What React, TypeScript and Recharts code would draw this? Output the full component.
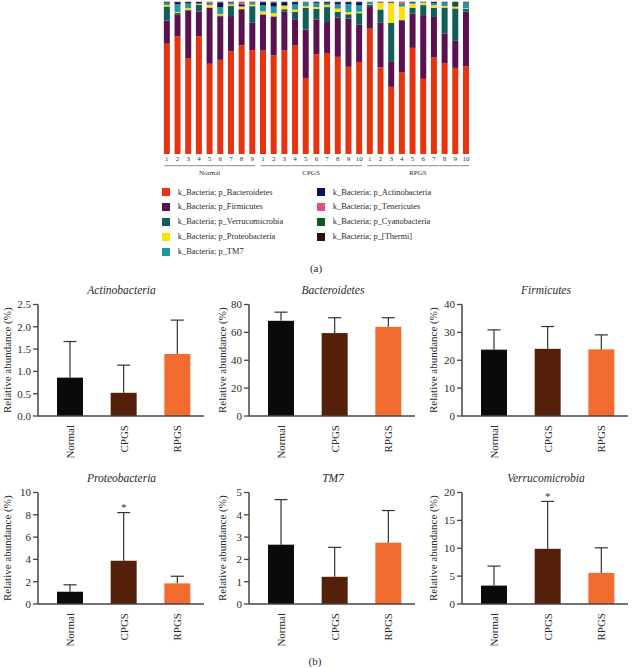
// App.tsx — (a) per-sample phylum composition, (b) group means for six phyla
import { BarChart, Bar, XAxis, YAxis } from "recharts";

const FONT = "'Liberation Serif', 'DejaVu Serif', serif";

// ---------- (a) stacked composition ----------
const sampleLabels = [
  "1", "2", "3", "4", "5", "6", "7", "8", "9",
  "1", "2", "3", "4", "5", "6", "7", "8", "9", "10",
  "1", "2", "3", "4", "5", "6", "7", "8", "9", "10",
];
const sampleGroup = [
  "Normal", "Normal", "Normal", "Normal", "Normal", "Normal", "Normal", "Normal", "Normal",
  "CPGS", "CPGS", "CPGS", "CPGS", "CPGS", "CPGS", "CPGS", "CPGS", "CPGS", "CPGS",
  "RPGS", "RPGS", "RPGS", "RPGS", "RPGS", "RPGS", "RPGS", "RPGS", "RPGS", "RPGS",
];

const bacteroidetes = [72.6, 77.5, 63.2, 77.7, 59.5, 62.4, 67.6, 72.0, 68.3, 68.3, 65.2, 68.3, 71.6, 50.1, 65.6, 66.5, 63.9, 57.3, 60.6, 82.9, 57.3, 44.2, 54.0, 69.8, 49.7, 63.5, 60.0, 56.9, 57.8];
const firmicutes = [15.3, 14.4, 31.3, 16.4, 36.8, 28.9, 23.2, 23.6, 17.9, 23.6, 25.6, 25.6, 17.1, 31.9, 23.0, 20.4, 25.8, 31.7, 24.7, 14.9, 29.5, 16.4, 33.9, 22.5, 42.2, 26.7, 19.7, 17.9, 36.1];
const verrucomicrobia = [9.2, 1.0, 0.5, 4.4, 0.3, 0.5, 6.6, 0.5, 10.9, 0.3, 0.3, 1.7, 4.8, 14.2, 7.0, 9.8, 3.7, 2.8, 7.4, 1.1, 8.8, 25.8, 0.5, 3.9, 6.6, 6.1, 17.1, 21.4, 1.7];
const proteobacteria = [1.0, 0.6, 1.0, 0.5, 1.7, 1.0, 1.0, 1.5, 1.0, 2.0, 2.0, 2.2, 1.5, 1.1, 1.1, 1.3, 2.2, 1.5, 0.9, 0.3, 4.4, 12.9, 8.8, 2.6, 1.5, 1.7, 1.0, 0.9, 0.5];
const tm7 = [1.3, 5.0, 3.0, 0.3, 1.0, 4.4, 1.0, 0.3, 1.0, 3.9, 4.4, 0.3, 3.5, 2.6, 2.6, 1.0, 2.8, 5.0, 4.2, 1.1, 0.3, 0.3, 1.7, 0.6, 0.3, 1.2, 2.2, 0.3, 3.7];
const actinobacteria = [0.5, 1.5, 1.0, 1.0, 0.5, 3.3, 0.5, 1.3, 0.4, 2.2, 2.8, 2.2, 1.5, 0.2, 0.7, 1.0, 1.5, 1.5, 2.2, 0.2, 0.2, 0.4, 0.3, 0.5, 0.2, 0.8, 0.4, 0.3, 0.4];
const tenericutes = [0.1, 0.1, 0.1, 0.1, 0.5, 0.1, 0.2, 1.5, 0.2, 0.1, 0.1, 0.1, 0.1, 0.1, 0.1, 0.1, 0.1, 0.1, 0.1, 0.1, 0.1, 0.1, 1.1, 0.1, 0.1, 0.1, 0.1, 0.1, 0.1];
const cyanobacteria = [0.2, 0.1, 0.1, 0.1, 0.1, 0.3, 0.1, 0.2, 0.3, 0.1, 0.3, 0.1, 0.1, 0.1, 0.1, 0.1, 0.1, 0.1, 0.1, 0.1, 0.1, 0.1, 0.1, 0.1, 0.1, 0.1, 0.1, 2.8, 0.1];
const thermi = [0.05, 0.05, 0.05, 0.05, 0.05, 0.05, 0.05, 0.05, 0.05, 0.05, 0.05, 0.05, 0.05, 0.05, 0.05, 0.05, 0.05, 0.05, 0.05, 0.05, 0.05, 0.05, 0.05, 0.05, 0.05, 0.05, 0.05, 0.05, 0.05];

// stack order bottom -> top
const phyla = [
  { key: "Bacteroidetes", name: "k_Bacteria; p_Bacteroidetes", color: "#E5340F", values: bacteroidetes },
  { key: "Firmicutes", name: "k_Bacteria; p_Firmicutes", color: "#5A1150", values: firmicutes },
  { key: "Verrucomicrobia", name: "k_Bacteria; p_Verrucomicrobia", color: "#0F5E59", values: verrucomicrobia },
  { key: "Proteobacteria", name: "k_Bacteria; p_Proteobacteria", color: "#FFE000", values: proteobacteria },
  { key: "TM7", name: "k_Bacteria; p_TM7", color: "#1E98A1", values: tm7 },
  { key: "Actinobacteria", name: "k_Bacteria; p_Actinobacteria", color: "#10105A", values: actinobacteria },
  { key: "Tenericutes", name: "k_Bacteria; p_Tenericutes", color: "#E84E78", values: tenericutes },
  { key: "Cyanobacteria", name: "k_Bacteria; p_Cyanobacteria", color: "#0D5B1F", values: cyanobacteria },
  { key: "Thermi", name: "k_Bacteria; p_[Thermi]", color: "#2D1007", values: thermi },
];

const stackData = sampleLabels.map((lab, i) => {
  const row: Record<string, number | string> = { id: `${sampleGroup[i]}-${lab}` };
  phyla.forEach((p) => (row[p.key] = p.values[i]));
  return row;
});

const HALF_BAND = 5.35;

function SampleTick({ x, y, index }: any) {
  const g = sampleGroup[index];
  const first = index === 0 || sampleGroup[index - 1] !== g;
  const last = index === sampleGroup.length - 1 || sampleGroup[index + 1] !== g;
  const start = sampleGroup.indexOf(g);
  const size = sampleGroup.filter((s) => s === g).length;
  const k = index - start;
  const mid = k === Math.floor((size - 1) / 2);
  return (
    <g>
      <text x={x} y={y + 5} fontSize={7} fill="#333" textAnchor="middle" dominantBaseline="central" fontFamily={FONT}>
        {sampleLabels[index]}
      </text>
      <line x1={first ? x - 2.5 : x - HALF_BAND} x2={last ? x + 3 : x + HALF_BAND} y1={y + 11.7} y2={y + 11.7} stroke="#8a8a8a" strokeWidth={1} />
      {mid && (
        <text x={x + (size % 2 === 0 ? HALF_BAND : 0)} y={y + 18.5} fontSize={7} fill="#333" textAnchor="middle" dominantBaseline="central" fontFamily={FONT}>
          {g}
        </text>
      )}
    </g>
  );
}

function CompositionChart() {
  return (
    <div style={{ position: "absolute", left: 150, top: 0 }}>
      <BarChart
        width={330}
        height={180}
        data={stackData}
        stackOffset="expand"
        barCategoryGap="22%"
        margin={{ top: 1.7, right: 8.7, bottom: 0, left: 11.5 }}
      >
        <XAxis dataKey="id" axisLine={false} tickLine={false} tickSize={0} tickMargin={0} interval={0} height={26} tick={<SampleTick />} />
        <YAxis hide domain={[0, 1]} />
        {phyla.map((p) => (
          <Bar key={p.key} dataKey={p.key} stackId="a" fill={p.color} isAnimationActive={false} />
        ))}
      </BarChart>
    </div>
  );
}

function Legend() {
  const left = phyla.filter((p) => ["Bacteroidetes", "Firmicutes", "Verrucomicrobia", "Proteobacteria", "TM7"].includes(p.key));
  const right = phyla.filter((p) => !left.includes(p));
  const item = (p: (typeof phyla)[number], i: number, sx: number) => (
    <div key={p.key} style={{ position: "absolute", left: sx, top: 187.5 + i * 14.9, display: "flex", alignItems: "center", height: 9 }}>
      <div style={{ width: 8, height: 8, background: p.color, marginRight: 7.5 }} />
      <span style={{ fontSize: 8.4, color: "#2a2a2a", fontFamily: FONT, whiteSpace: "nowrap" }}>{p.name}</span>
    </div>
  );
  return (
    <>
      {left.map((p, i) => item(p, i, 162.3))}
      {right.map((p, i) => item(p, i, 317.3))}
    </>
  );
}

// ---------- (b) group comparisons ----------
const groups = ["Normal", "CPGS", "RPGS"];
const groupColors = ["#0A0A0A", "#55200A", "#F26C30"];

const actinoMean = [0.86, 0.52, 1.39];
const actinoUpper = [1.67, 1.14, 2.15];
const bacteroMean = [68.3, 59.5, 64.0];
const bacteroUpper = [74.5, 70.5, 70.5];
const firmiMean = [23.8, 24.1, 23.9];
const firmiUpper = [30.9, 32.1, 29.1];
const proteoMean = [1.1, 3.88, 1.85];
const proteoUpper = [1.72, 8.2, 2.49];
const tm7Mean = [2.66, 1.22, 2.75];
const tm7Upper = [4.68, 2.54, 4.19];
const verruMean = [3.3, 9.9, 5.58];
const verruUpper = [6.8, 18.4, 10.08];

const actinoTicks = [0, 0.5, 1.0, 1.5, 2.0, 2.5];
const bacteroTicks = [0, 20, 40, 60, 80];
const firmiTicks = [0, 10, 20, 30, 40];
const proteoTicks = [0, 2, 4, 6, 8, 10];
const tm7Ticks = [0, 1, 2, 3, 4, 5];
const verruTicks = [0, 5, 10, 15, 20];

function ErrBar(props: any) {
  const { x, y, width, height, index, payload } = props;
  const unit = payload.mean > 0 ? height / payload.mean : 0;
  const top = y + height - payload.upper * unit;
  const cx = x + width / 2;
  return (
    <g>
      <rect x={x} y={y} width={width} height={height} fill={groupColors[index]} />
      <line x1={cx} x2={cx} y1={y} y2={top} stroke="#333" strokeWidth={1.2} />
      <line x1={cx - 6.5} x2={cx + 6.5} y1={top} y2={top} stroke="#333" strokeWidth={1.2} />
      {payload.sig && (
        <text x={cx} y={top - 1.5} fontSize={11} fill="#333" textAnchor="middle" fontFamily={FONT}>
          *
        </text>
      )}
    </g>
  );
}

function GroupTick({ x, y, payload }: any) {
  return (
    <text
      x={x}
      y={y + 9}
      transform={`rotate(-90, ${x}, ${y + 9})`}
      textAnchor="end"
      dominantBaseline="central"
      fontSize={11}
      fill="#2a2a2a"
      fontFamily={FONT}
    >
      {payload.value}
    </text>
  );
}

type PanelProps = {
  title: string;
  mean: number[];
  upper: number[];
  ticks: number[];
  sig?: number;
  left: number;
  top: number;
  labelOffset: number;
  decimals?: number;
};

function Panel({ title, mean, upper, ticks, sig, left, top, labelOffset, decimals = 0 }: PanelProps) {
  const data = groups.map((g, i) => ({ group: g, mean: mean[i], upper: upper[i], sig: i === sig }));
  const axisColor = "#444";
  return (
    <>
      <div
        style={{
          position: "absolute",
          left: left + 61,
          top: top - 6,
          width: 120,
          textAlign: "center",
          fontFamily: FONT,
          fontStyle: "italic",
          fontSize: 11.5,
          color: "#2a2a2a",
          lineHeight: "12px",
        }}
      >
        {title}
      </div>
      <div style={{ position: "absolute", left, top }}>
        <BarChart width={203} height={175} data={data} margin={{ top: 14.5, right: 0, bottom: 0, left: 0 }}>
          <XAxis
            dataKey="group"
            tickSize={0}
            tickMargin={0}
            interval={0}
            height={49}
            padding={{ left: 5, right: 0 }}
            axisLine={{ stroke: axisColor, strokeWidth: 1.5 }}
            tick={<GroupTick />}
          />
          <YAxis
            width={37}
            domain={[0, ticks[ticks.length - 1]]}
            ticks={ticks}
            interval={0}
            tickSize={5}
            tickMargin={2}
            axisLine={{ stroke: axisColor, strokeWidth: 1.5 }}
            tickLine={{ stroke: axisColor, strokeWidth: 1.3 }}
            tick={{ fontSize: 11, fill: "#2a2a2a", fontFamily: FONT }}
            tickFormatter={(v: number) => v.toFixed(decimals)}
            label={{
              value: "Relative abundance (%)",
              angle: -90,
              position: "insideLeft",
              offset: labelOffset,
              style: { textAnchor: "middle", fontSize: 11, fill: "#2a2a2a", fontFamily: FONT },
            }}
          />
          <Bar dataKey="mean" barSize={26} isAnimationActive={false} shape={<ErrBar />} />
        </BarChart>
      </div>
    </>
  );
}

export default function App() {
  return (
    <div style={{ position: "absolute", left: 0, top: 0, width: 633, height: 668, background: "#fff", fontFamily: FONT }}>
      <CompositionChart />
      <Legend />
      <div style={{ position: "absolute", left: 296, top: 262, width: 40, textAlign: "center", fontSize: 11, color: "#2a2a2a" }}>(a)</div>

      <Panel title="Actinobacteria" mean={actinoMean} upper={actinoUpper} ticks={actinoTicks} decimals={1} left={0.5} top={290} labelOffset={6.3} />
      <Panel title="Bacteroidetes" mean={bacteroMean} upper={bacteroUpper} ticks={bacteroTicks} left={212} top={290} labelOffset={9.7} />
      <Panel title="Firmicutes" mean={firmiMean} upper={firmiUpper} ticks={firmiTicks} left={425} top={290} labelOffset={7.7} />

      <Panel title="Proteobacteria" mean={proteoMean} upper={proteoUpper} ticks={proteoTicks} sig={1} left={0.5} top={478} labelOffset={6.3} />
      <Panel title="TM7" mean={tm7Mean} upper={tm7Upper} ticks={tm7Ticks} left={212} top={478} labelOffset={9.7} />
      <Panel title="Verrucomicrobia" mean={verruMean} upper={verruUpper} ticks={verruTicks} sig={1} left={425} top={478} labelOffset={7.7} />

      <div style={{ position: "absolute", left: 295, top: 655, width: 40, textAlign: "center", fontSize: 11, color: "#2a2a2a" }}>(b)</div>
    </div>
  );
}
